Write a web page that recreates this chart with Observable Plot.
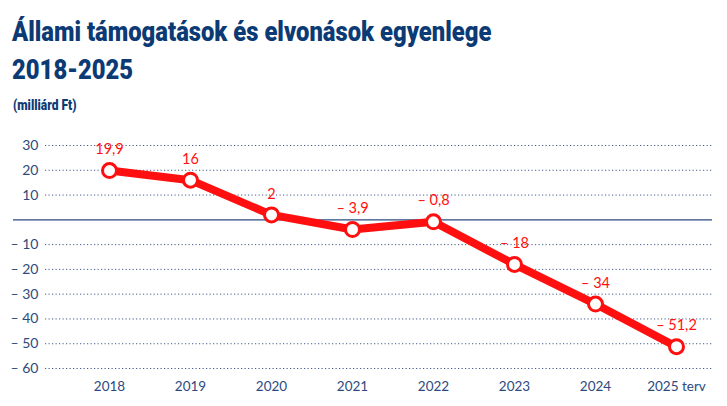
<!DOCTYPE html>
<html>
<head>
<meta charset="utf-8">
<script src="https://cdn.jsdelivr.net/npm/d3@7"></script>
<script src="https://cdn.jsdelivr.net/npm/@observablehq/plot@0.6"></script>
<style>
  html, body { margin: 0; padding: 0; background: #fff; }
  #wrap { position: relative; width: 727px; height: 406px; overflow: hidden; }
  #title { position: absolute; left: 12px; top: 13px; margin: 0; white-space: nowrap;
    font-family: Roboto, sans-serif; transform: scaleX(0.85); transform-origin: 0 0;
    font-weight: 900; font-size: 28px; line-height: 38px; color: #0b3a75; }
  #sub { position: absolute; left: 13px; top: 97px; margin: 0; white-space: nowrap;
    font-family: Roboto, sans-serif; transform: scaleX(0.86); transform-origin: 0 0;
    font-weight: 900; font-size: 14px; color: #0b3a75; }
  #chart { position: absolute; left: 0; top: 125px; }
</style>
</head>
<body>
<div id="wrap">
  <h1 id="title">Állami támogatások és elvonások egyenlege<br>2018-2025</h1>
  <div id="sub">(milliárd Ft)</div>
  <div id="chart"></div>
</div>
<script>
const years = ["2018", "2019", "2020", "2021", "2022", "2023", "2024", "2025 terv"];
const values = [19.9, 16, 2, -3.9, -0.8, -18, -34, -51.2];
const yTicks = [30, 20, 10, -10, -20, -30, -40, -50, -60];

const data = years.map((year, i) => ({year, value: values[i]}));
const fmt = v => (v < 0 ? "\u2013 " : "") + String(Math.abs(v)).replace(".", ",");

const navy = "#2d4a7e";
const red = "#ff0f0f";

const chart = Plot.plot({
  width: 727,
  height: 281,
  marginLeft: 45,
  marginRight: 15,
  marginTop: 20,
  marginBottom: 38,
  style: {fontFamily: "Lato, sans-serif", fontSize: "13px", color: navy, background: "transparent"},
  x: {type: "point", domain: years, range: [108, 676], padding: 0, label: null},
  y: {domain: [-60, 30], label: null},
  marks: [
    Plot.gridY(yTicks, {stroke: navy, strokeOpacity: 0.9, strokeDasharray: "1.2,2.3", strokeWidth: 1}),
    Plot.ruleY([0], {stroke: navy, strokeWidth: 1.3, insetLeft: -32}),
    Plot.axisY(yTicks, {tickSize: 0, tickPadding: 7, tickFormat: fmt, fontSize: 14, fill: navy, label: null}),
    Plot.axisX({tickSize: 0, tickPadding: 13, fontSize: 13.5, fill: navy, label: null}),
    Plot.line(data, {x: "year", y: "value", stroke: red, strokeWidth: 8, strokeLinejoin: "round", strokeLinecap: "round"}),
    Plot.dot(data, {x: "year", y: "value", r: 7, fill: "white", stroke: red, strokeWidth: 3}),
    Plot.text(data, {x: "year", y: "value", text: d => fmt(d.value), dy: -21, fill: red, fontSize: 14.5})
  ]
});
document.getElementById("chart").appendChild(chart);
</script>
</body>
</html>
